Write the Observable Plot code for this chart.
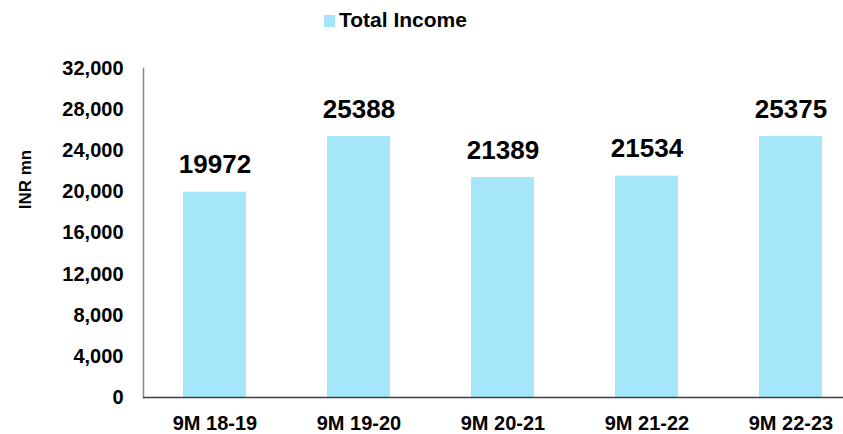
<!DOCTYPE html>
<html>
<head>
<meta charset="utf-8">
<script src="https://cdn.jsdelivr.net/npm/d3@7"></script>
<script src="https://cdn.jsdelivr.net/npm/@observablehq/plot@0.6"></script>
<style>
  body { margin: 0; background: #fff; font-family: "Liberation Sans", Arial, sans-serif; }
  #legend { position: relative; height: 40px; width: 843px; }
  #legend .sw { position: absolute; left: 324px; top: 15px; width: 11px; height: 12px; background: #a5e6fb; }
  #legend .lb { position: absolute; left: 339px; top: 8px; font-size: 21px; font-weight: bold; color: #000; line-height: 24px; }
</style>
</head>
<body>
<div id="legend"><div class="sw"></div><div class="lb">Total Income</div></div>
<div id="chart"></div>
<script>
const categories = ["9M 18-19", "9M 19-20", "9M 20-21", "9M 21-22", "9M 22-23"];
const totalIncome = [19972, 25388, 21389, 21534, 25375];
const yTicks = [0, 4000, 8000, 12000, 16000, 20000, 24000, 28000, 32000];

const data = categories.map((c, i) => ({category: c, value: totalIncome[i]}));

const chart = Plot.plot({
  width: 843,
  height: 394,
  marginTop: 28,
  marginBottom: 37,
  marginLeft: 143,
  marginRight: -20,
  style: {fontFamily: "'Liberation Sans', Arial, sans-serif", background: "#fff", color: "#000", overflow: "hidden"},
  x: {domain: categories, paddingInner: 0.56, paddingOuter: 0.28, label: null},
  y: {domain: [0, 32000], label: null},
  marks: [
    Plot.barY(data, {x: "category", y: "value", fill: "#a5e6fb"}),
    Plot.frame({anchor: "left", stroke: "#888", strokeWidth: 1.5}),
    Plot.ruleY([0], {stroke: "#404040", strokeWidth: 1.5}),
    Plot.axisY({ticks: yTicks, tickFormat: d3.format(","), tickSize: 0, tickPadding: 20,
      fontSize: 20, fontWeight: "bold", label: null}),
    Plot.axisX({tickSize: 0, tickPadding: 18, fontSize: 20, fontWeight: "bold", label: null}),
    Plot.text(data, {x: "category", y: "value", text: d => String(d.value), dy: -27,
      fontSize: 26, fontWeight: "bold", fill: "#000"}),
    Plot.text(["INR mn"], {frameAnchor: "left", textAnchor: "middle", dx: -118, dy: 139 - 192.5, rotate: -90,
      fontSize: 17, fontWeight: "bold", fill: "#000"})
  ]
});
document.getElementById("chart").appendChild(chart);
</script>
</body>
</html>
